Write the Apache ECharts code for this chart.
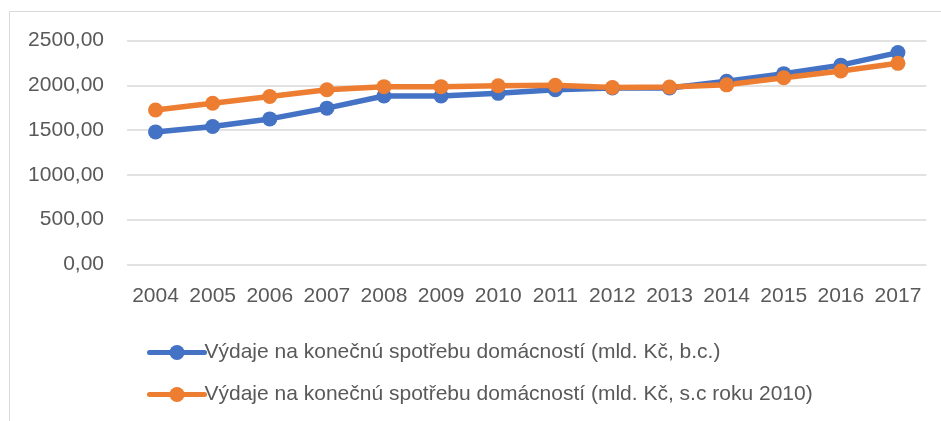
<!DOCTYPE html>
<html>
<head>
<meta charset="utf-8">
<script src="https://cdn.jsdelivr.net/npm/echarts@6/dist/echarts.min.js"></script>
<style>
html,body{margin:0;padding:0;background:#fff;}
#chart{width:941px;height:421px;}
</style>
</head>
<body>
<div id="chart"></div>
<script>
var years = ['2004','2005','2006','2007','2008','2009','2010','2011','2012','2013','2014','2015','2016','2017'];
var nominal = [1480, 1540, 1625, 1745, 1880, 1880, 1910, 1950, 1970, 1970, 2045, 2130, 2225, 2365];
var constant2010 = [1725, 1800, 1875, 1950, 1985, 1985, 1995, 2000, 1975, 1980, 2005, 2085, 2160, 2245];
var nameNominal = 'Výdaje na konečnú spotřebu domácností (mld. Kč, b.c.)';
var nameConstant = 'Výdaje na konečnú spotřebu domácností (mld. Kč, s.c roku 2010)';
var yTicks = {min: 0, max: 2500, interval: 500};

var FONT = '"Liberation Sans", Arial, sans-serif';
var chart = echarts.init(document.getElementById('chart'), null, {renderer: 'canvas'});
chart.setOption({
  animation: false,
  backgroundColor: '#fff',
  textStyle: {fontFamily: FONT},
  graphic: [{
    type: 'rect',
    shape: {x: 9.5, y: 11.5, width: 1000, height: 1000},
    style: {fill: 'none', stroke: '#d9d9d9', lineWidth: 1},
    silent: true, z: -1
  }],
  grid: {left: 127, right: 14.5, top: 40.5, bottom: 156.5, containLabel: false},
  xAxis: {
    type: 'category',
    data: years,
    boundaryGap: true,
    axisLine: {show: false},
    axisTick: {show: false},
    axisLabel: {color: '#595959', fontSize: 21, fontFamily: FONT, margin: 21, interval: 0}
  },
  yAxis: {
    type: 'value',
    min: yTicks.min, max: yTicks.max, interval: yTicks.interval,
    axisLine: {show: false},
    axisTick: {show: false},
    splitLine: {lineStyle: {color: '#d9d9d9', width: 1.5}},
    axisLabel: {
      color: '#595959', fontSize: 21, fontFamily: FONT, margin: 23,
      formatter: function (v) { return v.toFixed(2).replace('.', ','); }
    }
  },
  legend: {
    orient: 'vertical',
    left: 142, top: 337,
    itemWidth: 55, itemHeight: 19, itemGap: 21,
    lineStyle: {width: 5, cap: 'round'},
    textStyle: {color: '#595959', fontSize: 21, fontFamily: FONT, padding: [0, 0, 0, -5]},
    data: [nameNominal, nameConstant]
  },
  series: [
    {
      name: nameNominal, type: 'line', data: nominal,
      symbol: 'circle', symbolSize: 15,
      lineStyle: {color: '#4472C4', width: 5.5, cap: 'round', join: 'round'},
      itemStyle: {color: '#4472C4', borderWidth: 0}
    },
    {
      name: nameConstant, type: 'line', data: constant2010,
      symbol: 'circle', symbolSize: 15,
      lineStyle: {color: '#ED7D31', width: 5.5, cap: 'round', join: 'round'},
      itemStyle: {color: '#ED7D31', borderWidth: 0}
    }
  ]
});
</script>
</body>
</html>
